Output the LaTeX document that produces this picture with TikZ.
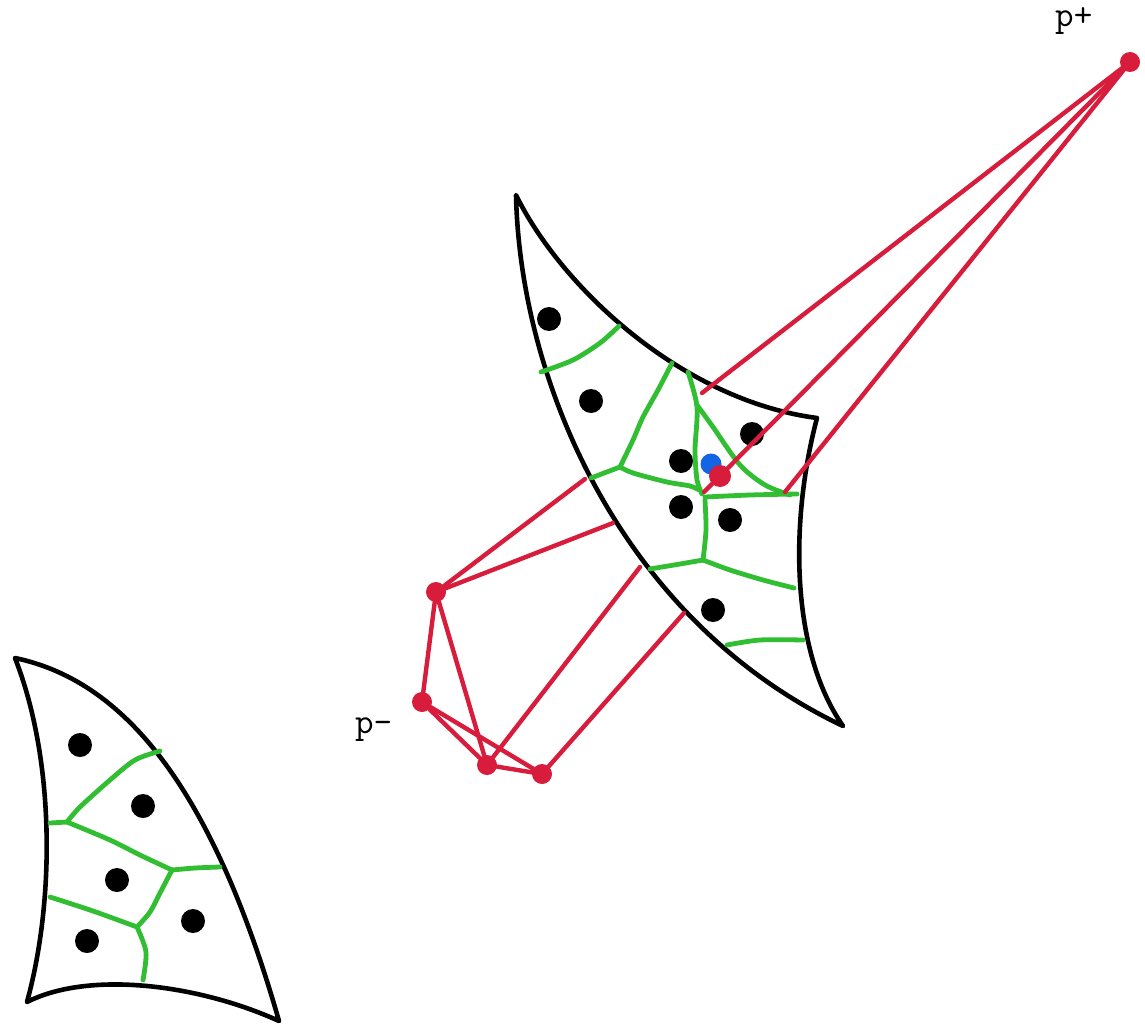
\documentclass[tikz,border=0pt]{standalone}
\usepackage{fontspec}
\definecolor{edgered}{RGB}{216,28,60}
\definecolor{cellgreen}{RGB}{50,190,50}
\definecolor{seedblue}{RGB}{20,100,230}
\tikzset{
  outline/.style={draw=black, line width=4.6pt, line join=round, line cap=round},
  cell/.style={draw=cellgreen, line width=4.8pt, line cap=round, line join=round},
  ray/.style={draw=edgered, line width=4.4pt, line cap=round},
  seed/.style={circle, fill=black, inner sep=0pt, minimum size=24pt},
  blueseed/.style={circle, fill=seedblue, inner sep=0pt, minimum size=21pt},
  vert/.style={circle, fill=edgered, inner sep=0pt, minimum size=20pt},
  bigvert/.style={circle, fill=edgered, inner sep=0pt, minimum size=22pt},
  lbl/.style={font=\ttfamily\fontsize{36}{36}\selectfont, inner sep=0pt, anchor=base west}
}
\begin{document}
\begin{tikzpicture}[x=1pt, y=-1pt]
\useasboundingbox (0,0) rectangle (1145,1027);
\fill[white] (0,0) rectangle (1145,1027);

% ---------- top patch outline ----------
\draw[outline] (516,195) .. controls (560,285) and (680,400) .. (817,418)
  .. controls (790,520) and (790,650) .. (843,726)
  .. controls (620,620) and (520,380) .. (516,195) -- cycle;

% ---------- top patch cells ----------
\draw[cell] plot[smooth] coordinates {(541,372) (573,360) (600,343) (619,326)};
\draw[cell] (591,478) -- (620,467);
\draw[cell] plot[smooth] coordinates {(620,467) (633,440) (643,417) (658,390) (672,363)};
\draw[cell] plot[smooth] coordinates {(620,467) (633,473) (667,482) (690,486) (699,490)};
\draw[cell] plot[smooth] coordinates {(688,372) (697,407) (695,450) (697,480) (702,494)};
\draw[cell] plot[smooth] coordinates {(697,405) (713,427) (740,465) (765,485) (790,495)};
\draw[cell] plot[smooth] coordinates {(705,497) (750,495) (797,494)};
\draw[cell] plot[smooth] coordinates {(705,500) (706,530) (703,560)};
\draw[cell] plot[smooth] coordinates {(650,569) (680,564) (703,560)};
\draw[cell] plot[smooth] coordinates {(703,560) (730,570) (763,580) (794,588)};
\draw[cell] plot[smooth] coordinates {(727,645) (760,640) (803,640)};

% ---------- bottom patch outline ----------
\draw[outline] (15,658) .. controls (120,680) and (210,780) .. (279,1021)
  .. controls (200,985) and (90,970) .. (27,1002)
  .. controls (55,900) and (55,760) .. (15,658) -- cycle;

% ---------- bottom patch cells ----------
\draw[cell] (50,823) -- (67,822);
\draw[cell] plot[smooth] coordinates {(67,822) (80,807) (110,780) (135,760) (160,751)};
\draw[cell] plot[smooth] coordinates {(67,822) (110,840) (140,855) (172,870)};
\draw[cell] plot[smooth] coordinates {(172,870) (195,868) (220,867)};
\draw[cell] plot[smooth] coordinates {(172,870) (160,893) (150,912) (137,927)};
\draw[cell] plot[smooth] coordinates {(50,897) (93,911) (137,927)};
\draw[cell] plot[smooth] coordinates {(137,927) (146,952) (143,980)};

% ---------- seeds ----------
\node[seed] (s1) at (549,319) {};
\node[seed] (s2) at (591,401) {};
\node[seed] (s3) at (681,461) {};
\node[seed] (s4) at (752,434) {};
\node[seed] (s5) at (681,507) {};
\node[seed] (s6) at (730,520) {};
\node[seed] (s7) at (713,610) {};
\node[seed] (b1) at (80,745) {};
\node[seed] (b2) at (143,806) {};
\node[seed] (b3) at (117,880) {};
\node[seed] (b4) at (193,921) {};
\node[seed] (b5) at (87,941) {};
\node[blueseed] (q) at (711,464) {};

% ---------- red vertices ----------
\node[vert] (pplus) at (1130,62) {};
\node[bigvert] (r) at (720,476) {};
\node[vert] (v1) at (436,592) {};
\node[vert] (pminus) at (422,702) {};
\node[vert] (v3) at (487,765) {};
\node[vert] (v4) at (542,774) {};

\coordinate (e1) at (702,393);
\coordinate (e2) at (704,492);
\coordinate (e3) at (785,492);
\coordinate (e4) at (585,479);
\coordinate (e5) at (613,523);
\coordinate (e6) at (640,567);
\coordinate (e7) at (684,613);

% ---------- red rays ----------
\draw[ray] (pplus) -- (e1);
\draw[ray] (pplus) -- (r);
\draw[ray] (r) -- (e2);
\draw[ray] (pplus) -- (e3);
\draw[ray] (v1) -- (e4);
\draw[ray] (v1) -- (e5);
\draw[ray] (v3) -- (e6);
\draw[ray] (v4) -- (e7);
\draw[ray] (v1) -- (pminus);
\draw[ray] (v1) -- (v3);
\draw[ray] (pminus) -- (v3);
\draw[ray] (pminus) -- (v4);
\draw[ray] (v3) -- (v4);

% ---------- labels ----------
\node[lbl] (lplus) at (1055,27) {p+};
\node[lbl] (lminus) at (355,733) {p-};
\end{tikzpicture}
\end{document}
